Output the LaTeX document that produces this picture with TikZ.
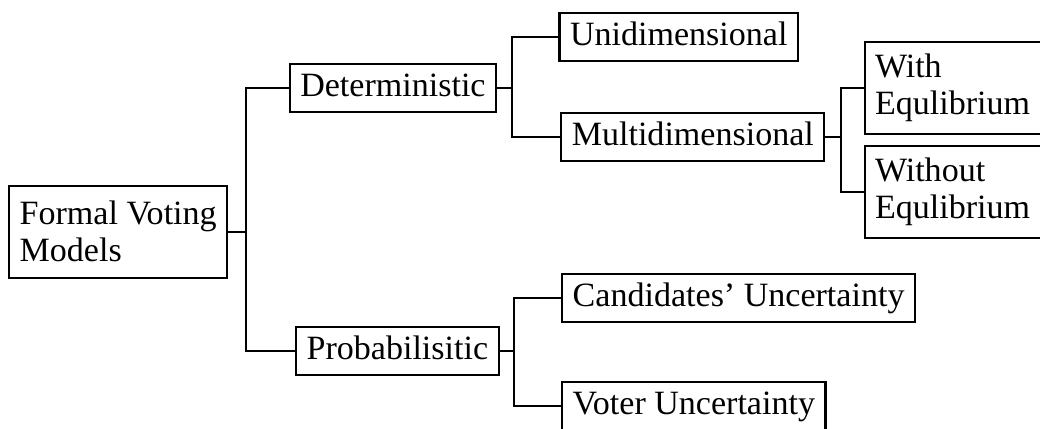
\documentclass[tikz,border=0pt]{standalone}
\usepackage{fontspec}
\setmainfont{Liberation Serif}
\usepackage{tikz}

\begin{document}
\begin{tikzpicture}[
box/.style={draw, line width=0.65pt, anchor=west, font=\fontsize{10.7pt}{11.6pt}\selectfont, inner xsep=3.3pt, inner ysep=2.8pt, text height=7.4pt, text depth=2.1pt},
tallbox/.style={draw, line width=0.65pt, anchor=west, font=\fontsize{10.7pt}{11.6pt}\selectfont, align=left, inner sep=3.3pt, minimum height=1.02cm},
link/.style={line width=0.65pt}]
\useasboundingbox (0,0) rectangle (11.49,-4.73);

\node[tallbox] (root) at (0.09,-2.56) {Formal Voting\\Models};
\node[box] (det) at (3.19,-0.97) {Deterministic};
\node[box] (prob) at (3.26,-3.88) {Probabilisitic};
\node[box] (uni) at (6.17,-0.41) {Unidimensional};
\node[box] (multi) at (6.19,-1.51) {Multidimensional};
\node[tallbox, text width=1.8cm] (with) at (9.54,-0.97) {With\\Equlibrium};
\node[tallbox, text width=1.8cm] (without) at (9.54,-2.12) {Without\\Equlibrium};
\node[box] (cand) at (6.20,-3.29) {Candidates’ Uncertainty};
\node[box] (voter) at (6.20,-4.49) {Voter Uncertainty};

\coordinate (jroot) at (2.72,-2.56);
\coordinate (jdet) at (5.66,-0.97);
\coordinate (jmulti) at (9.29,-1.51);
\coordinate (jprob) at (5.68,-3.88);

\draw[link] (root.east) -- (jroot);
\draw[link] (det.east) -- (jdet);
\draw[link] (multi.east) -- (jmulti);
\draw[link] (prob.east) -- (jprob);

\foreach \j/\c in {jroot/det, jroot/prob, jdet/uni, jdet/multi, jmulti/with, jmulti/without, jprob/cand, jprob/voter} {
\draw[link] (\j) |- (\c.west);
}
\end{tikzpicture}
\end{document}
